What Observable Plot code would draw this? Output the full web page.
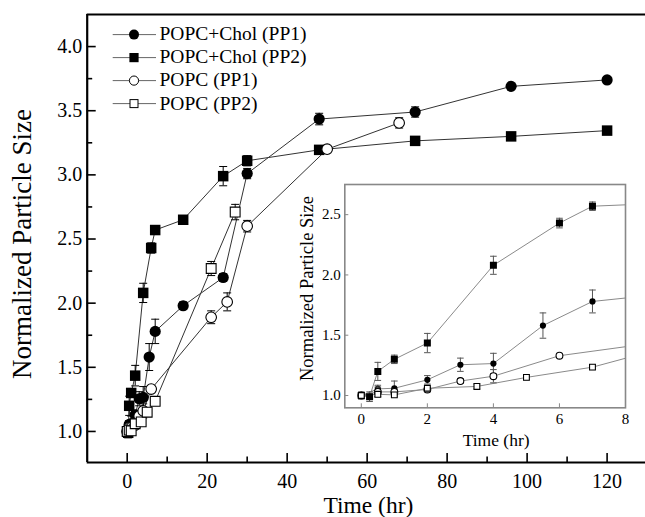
<!DOCTYPE html>
<html>
<head>
<meta charset="utf-8">
<script src="https://cdn.jsdelivr.net/npm/d3@7"></script>
<script src="https://cdn.jsdelivr.net/npm/@observablehq/plot@0.6"></script>
<style>
  html, body { margin: 0; padding: 0; background: white; }
  #wrap { position: relative; width: 645px; height: 517px; overflow: hidden; font-family: "Liberation Serif", "Times New Roman", serif; }
  #inset { position: absolute; left: 290px; top: 180px; }
  #legend { position: absolute; left: 112px; top: 22.5px; }
  .row { display: flex; align-items: center; height: 23.2px; font-size: 19.5px; color: black; white-space: nowrap; }
  .row svg { flex: none; margin-right: 3.5px; }
</style>
</head>
<body>
<div id="wrap"><div id="main"></div><div id="inset"></div><div id="legend"></div></div>
<script>
// ---------- data ----------
const seriesNames = ["POPC+Chol (PP1)", "POPC+Chol (PP2)", "POPC (PP1)", "POPC (PP2)"];

const cholPP1Time = [0, 0.5, 1, 2, 3, 4, 5.5, 7, 14, 24, 30, 48, 72, 96, 120];
const cholPP1Size = [1.00, 1.055, 1.06, 1.13, 1.255, 1.265, 1.58, 1.78, 1.98, 2.20, 3.01, 3.435, 3.49, 3.69, 3.74];
const cholPP1Err  = [0.02, 0.03, 0.06, 0.035, 0.055, 0.085, 0.105, 0.095, 0.03, 0.03, 0.04, 0.045, 0.04, 0.02, 0.02];

const cholPP2Time = [0, 0.25, 0.5, 1, 2, 4, 6, 7, 14, 24, 30, 48, 72, 96, 120];
const cholPP2Size = [1.00, 0.99, 1.20, 1.30, 1.435, 2.08, 2.43, 2.57, 2.65, 2.99, 3.11, 3.195, 3.265, 3.30, 3.345];
const cholPP2Err  = [0.02, 0.04, 0.075, 0.035, 0.08, 0.075, 0.04, 0.035, 0.02, 0.075, 0.04, 0.02, 0.02, 0.02, 0.02];

const popcPP1Time = [0, 0.5, 1, 2, 3, 4, 6, 21, 25, 30, 50, 68];
const popcPP1Size = [1.00, 1.03, 1.03, 1.05, 1.12, 1.16, 1.33, 1.89, 2.01, 2.60, 3.20, 3.405];
const popcPP1Err  = [0.03, 0.04, 0.02, 0.02, 0.02, 0.055, 0.015, 0.05, 0.07, 0.045, 0.02, 0.04];

const popcPP2Time = [0, 0.5, 1, 2, 3.5, 5, 7, 21, 27];
const popcPP2Size = [1.00, 1.01, 1.005, 1.06, 1.075, 1.15, 1.235, 2.27, 2.71];
const popcPP2Err  = [0.02, 0.02, 0.015, 0.02, 0.02, 0.02, 0.02, 0.055, 0.06];

const xMajor = [0, 20, 40, 60, 80, 100, 120];
const xMinor = [10, 30, 50, 70, 90, 110];
const yMajor = [1.0, 1.5, 2.0, 2.5, 3.0, 3.5, 4.0];
const yMinor = [1.25, 1.75, 2.25, 2.75, 3.25, 3.75];

const insetXTicks = [0, 2, 4, 6, 8];
const insetYTicks = [1.0, 1.5, 2.0, 2.5];

const xLabel = "Time (hr)";
const yLabel = "Normalized Particle Size";

// ---------- build ----------
const FONT = "Liberation Serif";
function rows(ts, vs, es) { return ts.map((t, i) => ({t, v: vs[i], e: es[i]})); }
const series = [
  {name: seriesNames[0], data: rows(cholPP1Time, cholPP1Size, cholPP1Err), symbol: "circle", filled: true},
  {name: seriesNames[1], data: rows(cholPP2Time, cholPP2Size, cholPP2Err), symbol: "square", filled: true},
  {name: seriesNames[2], data: rows(popcPP1Time, popcPP1Size, popcPP1Err), symbol: "circle", filled: false},
  {name: seriesNames[3], data: rows(popcPP2Time, popcPP2Size, popcPP2Err), symbol: "square", filled: false}
];

const capSymbol = { draw(ctx, size) { const r = Math.sqrt(size / Math.PI); ctx.moveTo(-r, 0); ctx.lineTo(r, 0); } };
const SQ = Math.sqrt(Math.PI);

function seriesMarks(s, opt) {
  const r = s.symbol === "circle" ? opt.circleR(s) : opt.squareSide(s) / SQ;
  return [
    Plot.ruleX(s.data, {x: "t", y1: d => d.v - d.e, y2: d => d.v + d.e, stroke: opt.errStroke, strokeWidth: 1, clip: opt.clip}),
    Plot.dot(s.data, {x: "t", y: d => d.v + d.e, symbol: capSymbol, r: opt.capR, stroke: opt.errStroke, strokeWidth: 1, fill: "none", clip: opt.clip}),
    Plot.dot(s.data, {x: "t", y: d => d.v - d.e, symbol: capSymbol, r: opt.capR, stroke: opt.errStroke, strokeWidth: 1, fill: "none", clip: opt.clip}),
    Plot.dot(s.data, {x: "t", y: "v", symbol: s.symbol, r,
      fill: s.filled ? "black" : "white", stroke: "black", strokeWidth: s.filled ? 0 : 1.1, clip: opt.clip})
  ];
}

// ---------- main chart ----------
const W = 645, H = 517, mL = 86.7, mR = 0, mT = 14, mB = 55;
const xDom = [-10, 129.6], yDom = [0.758, 4.25];
const plotW = W - mL - mR, plotH = H - mT - mB;

const mainOpt = {
  errStroke: "black", capR: 4, clip: false,
  circleR: s => s.filled ? 5.6 : 5.3,
  squareSide: s => s.filled ? 10.5 : 9.8
};

const main = Plot.plot({
  width: W, height: H,
  marginLeft: mL, marginRight: mR, marginTop: mT, marginBottom: mB,
  x: {domain: xDom},
  y: {domain: yDom},
  style: {fontFamily: FONT, fontSize: "20px", background: "transparent", color: "black"},
  marks: [
    ...series.map(s => Plot.line(s.data, {x: "t", y: "v", stroke: "#333", strokeWidth: 1})),
    ...series.flatMap(s => seriesMarks(s, mainOpt)),
    Plot.ruleY(yMajor, {y: d => d, insetRight: plotW - 9, stroke: "black", strokeWidth: 1.6}),
    Plot.ruleY(yMinor, {y: d => d, insetRight: plotW - 5.5, stroke: "black", strokeWidth: 1.6}),
    Plot.ruleX(xMajor, {x: d => d, insetTop: plotH - 9, stroke: "black", strokeWidth: 1.6}),
    Plot.ruleX(xMinor, {x: d => d, insetTop: plotH - 5.5, stroke: "black", strokeWidth: 1.6}),
    Plot.ruleX([xDom[0]], {stroke: "black", strokeWidth: 2.2}),
    Plot.ruleY([yDom[0]], {stroke: "black", strokeWidth: 2.2}),
    Plot.ruleY([yDom[1]], {stroke: "black", strokeWidth: 2.2}),
    Plot.axisY(yMajor, {tickSize: 0, tickPadding: 5, tickFormat: d3.format(".1f"), fontSize: 20, fontFamily: FONT, label: null}),
    Plot.axisX(xMajor, {tickSize: 0, tickPadding: 11, fontSize: 20, fontFamily: FONT, label: null}),
    Plot.text([xLabel], {frameAnchor: "bottom", text: d => d, textAnchor: "middle", lineAnchor: "middle", dy: 43, dx: 2, fontSize: 23.5, fontFamily: FONT}),
    Plot.text([yLabel], {frameAnchor: "left", text: d => d, textAnchor: "middle", lineAnchor: "middle", rotate: -90, dx: -65, dy: 5.5, fontSize: 27, fontFamily: FONT})
  ]
});
document.getElementById("main").appendChild(main);

// ---------- inset ----------
const iW = 345, iH = 300, iL = 54.3, iR = 10, iT = 4, iB = 72.7;
const iPlotW = iW - iL - iR, iPlotH = iH - iT - iB;
const insetOpt = {
  errStroke: "#555", capR: 3.3, clip: true,
  circleR: s => s.filled ? 3.1 : 3.4,
  squareSide: s => s.filled ? 7 : 5.8
};
const inset = Plot.plot({
  width: iW, height: iH,
  marginLeft: iL, marginRight: iR, marginTop: iT, marginBottom: iB,
  x: {domain: [-0.5, 8]},
  y: {domain: [0.898, 2.75]},
  style: {fontFamily: FONT, fontSize: "15px", background: "transparent", color: "black"},
  marks: [
    Plot.frame({fill: "white", stroke: "none"}),
    ...series.map(s => Plot.line(s.data, {x: "t", y: "v", stroke: "#8a8a8a", strokeWidth: 1, clip: true})),
    ...series.flatMap(s => seriesMarks(s, insetOpt)),
    Plot.ruleY(insetYTicks, {y: d => d, insetRight: iPlotW - 4, stroke: "#888", strokeWidth: 1}),
    Plot.ruleX(insetXTicks, {x: d => d, insetTop: iPlotH - 4, stroke: "#888", strokeWidth: 1}),
    Plot.frame({stroke: "#888", strokeWidth: 1.6}),
    Plot.axisY(insetYTicks, {tickSize: 0, tickPadding: 4, tickFormat: d3.format(".1f"), fontSize: 15, fontFamily: FONT, label: null}),
    Plot.axisX(insetXTicks, {tickSize: 0, tickPadding: 6, fontSize: 15, fontFamily: FONT, label: null}),
    Plot.text([xLabel], {frameAnchor: "bottom", text: d => d, textAnchor: "middle", lineAnchor: "middle", dy: 32.7, dx: 11, fontSize: 17.5, fontFamily: FONT}),
    Plot.text([yLabel], {frameAnchor: "left", text: d => d, textAnchor: "middle", lineAnchor: "middle", rotate: -90, dx: -37.6, dy: -7.6, fontSize: 18.5, fontFamily: FONT})
  ]
});
document.getElementById("inset").appendChild(inset);

// ---------- legend ----------
const legend = document.getElementById("legend");
series.forEach(s => {
  const row = document.createElement("div");
  row.className = "row";
  const fill = s.filled ? "black" : "white";
  const sw = s.filled ? 0 : 1;
  const sym = s.symbol === "circle"
    ? `<circle cx="22" cy="11.6" r="${s.filled ? 5 : 4.6}" fill="${fill}" stroke="black" stroke-width="${sw}"/>`
    : `<rect x="${22 - (s.filled ? 4.6 : 4)}" y="${11.6 - (s.filled ? 4.6 : 4)}" width="${s.filled ? 9.2 : 8}" height="${s.filled ? 9.2 : 8}" fill="${fill}" stroke="black" stroke-width="${sw}"/>`;
  row.innerHTML = `<svg width="44" height="23.2"><line x1="0.7" x2="44" y1="11.6" y2="11.6" stroke="#666" stroke-width="1"/>${sym}</svg><span>${s.name}</span>`;
  legend.appendChild(row);
});
</script>
</body>
</html>
